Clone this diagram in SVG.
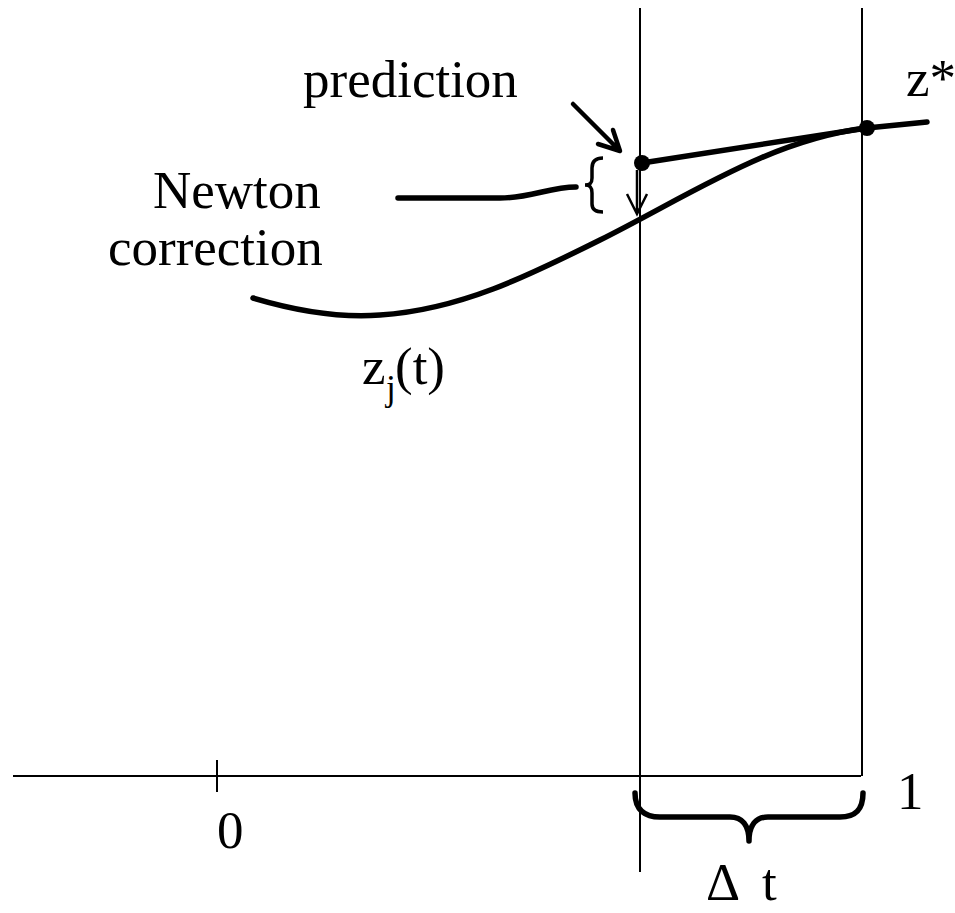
<svg xmlns="http://www.w3.org/2000/svg" width="955" height="913" viewBox="0 0 955 913">
<style>
.t{font-family:"Liberation Serif","Times New Roman",serif;font-size:53px;fill:#000}
.thin{fill:none;stroke:#000;stroke-width:2}
.thick{fill:none;stroke:#000;stroke-width:5.5;stroke-linecap:round;stroke-linejoin:round}
</style>
<rect width="955" height="913" fill="#fff"/>
<g id="axes">
<line class="thin" x1="13" y1="776" x2="861" y2="776"/>
<line class="thin" x1="217" y1="760" x2="217" y2="792"/>
<line class="thin" x1="640" y1="8" x2="640" y2="872"/>
<line class="thin" x1="862" y1="8" x2="862" y2="776"/>
</g>
<g id="curve">
<path class="thick" d="M253,298 C300,312 340,318 380,315 C460,310 530,275 600,240 C690,195 770,140 866,128"/>
</g>
<g id="prediction-line">
<path class="thick" d="M642,163 L867,128 L927,122"/>
<circle cx="642" cy="163" r="8"/>
<circle cx="867" cy="128" r="8"/>
</g>
<g id="connectors">
<path class="thick" d="M573,104 L619,150 M613,130 L620,151 L598,144" style="stroke-width:4.5"/>
<path fill="none" stroke="#000" stroke-width="2.5" d="M637,170 L637,213 M627,194 L637,214 L647,194"/>
<path class="thick" d="M398,198 L500,198 C530,198 550,187 576,187"/>
<path fill="none" stroke="#000" stroke-width="3.5" d="M603,158 C595,158 592,162 592,168 L592,178 C592,183 590,185 585,185 C590,185 592,187 592,193 L592,204 C592,209 595,212 603,212"/>
<path class="thick" d="M635,793 C635,810 645,817 660,817 L730,817 C742,817 749,825 749,841 C749,825 756,817 768,817 L840,817 C855,817 863,810 863,793"/>
</g>
<g id="labels">
<text class="t" x="303" y="97">prediction</text>
<text class="t" x="153" y="208">Newton</text>
<text class="t" x="108" y="265">correction</text>
<text class="t" x="906" y="96">z*</text>
<text class="t" x="362" y="384">z<tspan x="386" y="400" font-size="35">j</tspan><tspan x="395" y="384">(t)</tspan></text>
<text class="t" x="217" y="848">0</text>
<text class="t" x="897" y="809">1</text>
<text class="t" x="706" y="900" font-size="56">Δ</text>
<text class="t" x="762" y="900">t</text>
</g>
</svg>
